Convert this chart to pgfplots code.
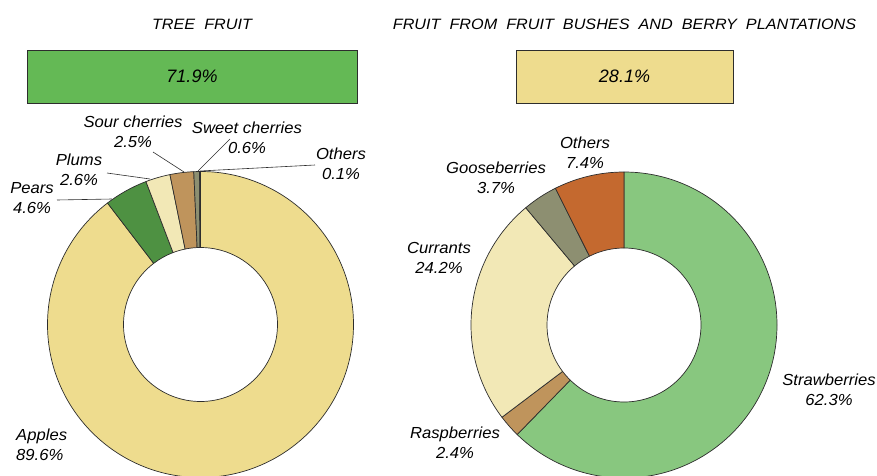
\documentclass[border=0pt]{standalone}
\usepackage{pgfplots}
\usepackage{pgfplotstable}
\pgfplotsset{compat=1.18}
\usepackage{fontspec}
\setmainfont{Liberation Sans}

\definecolor{cApple}{RGB}{238,220,142}
\definecolor{cPear}{RGB}{78,145,66}
\definecolor{cPlum}{RGB}{242,232,182}
\definecolor{cSour}{RGB}{191,148,92}
\definecolor{cSweet}{RGB}{141,143,113}
\definecolor{cOthL}{RGB}{90,90,80}
\definecolor{cStraw}{RGB}{136,199,127}
\definecolor{cRasp}{RGB}{191,148,92}
\definecolor{cCurr}{RGB}{242,232,182}
\definecolor{cGoose}{RGB}{141,143,113}
\definecolor{cOthR}{RGB}{196,105,47}
\definecolor{cBoxG}{RGB}{100,185,85}
\definecolor{cBoxY}{RGB}{238,220,142}
\definecolor{edge}{RGB}{45,45,45}
\definecolor{txt}{RGB}{40,40,40}

\pgfplotstableread{
pct col
89.6 cApple
4.6 cPear
2.6 cPlum
2.5 cSour
0.6 cSweet
0.1 cOthL
}\treetab

\pgfplotstableread{
pct col
62.3 cStraw
2.4 cRasp
24.2 cCurr
3.7 cGoose
7.4 cOthR
}\bushtab

\newcommand\donut[3]{%
  \pgfplotstablegetrowsof{#1}%
  \pgfmathtruncatemacro\nlast{\pgfplotsretval-1}%
  \def\cumval{0}%
  \pgfplotsforeachungrouped \i in {0,...,\nlast}{%
    \pgfplotstablegetelem{\i}{pct}\of{#1}\let\slicepct\pgfplotsretval
    \pgfplotstablegetelem{\i}{col}\of{#1}\let\slicecol\pgfplotsretval
    \pgfmathsetmacro\angs{90-3.6*\cumval}%
    \pgfmathsetmacro\ange{90-3.6*(\cumval+\slicepct)}%
    \pgfmathsetmacro\cumval{\cumval+\slicepct}%
    \edef\cmd{\noexpand\filldraw[fill=\slicecol, draw=edge, line width=0.7pt, line join=round]
      (axis cs:#2,#3) ++(\angs:153pt) arc[start angle=\angs, end angle=\ange, radius=153pt]
      -- ++(\ange:-76pt) arc[start angle=\ange, end angle=\angs, radius=77pt] -- cycle;}%
    \cmd
  }%
}

\begin{document}
\begin{tikzpicture}
\begin{axis}[
  x=1pt, y=1pt,
  xmin=0, xmax=877, ymin=0, ymax=475,
  hide axis,
  every node/.style={text=txt},
]
\path (axis cs:0,0) rectangle (axis cs:877,475);

% boxes
\filldraw[fill=cBoxG, draw=edge, line width=0.6pt] (axis cs:27,425) rectangle (axis cs:357,372);
\filldraw[fill=cBoxY, draw=edge, line width=0.6pt] (axis cs:516,425) rectangle (axis cs:733,372);
\node[font=\fontsize{18}{20}\selectfont\itshape, inner sep=0pt] at (axis cs:192,399) {71.9\%};
\node[font=\fontsize{18}{20}\selectfont\itshape, inner sep=0pt] at (axis cs:624.5,399) {28.1\%};

% titles
\node[font=\fontsize{15}{17}\selectfont\itshape, inner sep=0pt, xscale=1.08] at (axis cs:202,451) {TREE\ \ FRUIT};
\node[font=\fontsize{15}{17}\selectfont\itshape, inner sep=0pt, xscale=1.08] at (axis cs:624.5,451) {FRUIT\ \ FROM\ \ FRUIT\ \ BUSHES\ \ AND\ \ BERRY\ \ PLANTATIONS};

% donuts
\donut{\treetab}{200.5}{150.5}
\donut{\bushtab}{624}{150}

% leader lines
\addplot[edge, line width=0.6pt] coordinates {(153,323) (184,303)};
\addplot[edge, line width=0.6pt] coordinates {(230,336) (198,304)};
\addplot[edge, line width=0.6pt] coordinates {(315,310) (200,304)};
\addplot[edge, line width=0.6pt] coordinates {(107,302) (150,296)};
\addplot[edge, line width=0.6pt] coordinates {(57,275) (112,276)};

% labels
\tikzset{lab/.style={font=\fontsize{16}{20}\selectfont\itshape, align=center, inner sep=0pt, xscale=1.04}}
\node[lab] at (axis cs:133,343.5) {Sour cherries\\2.5\%};
\node[lab] at (axis cs:247,337) {Sweet cherries\\0.6\%};
\node[lab] at (axis cs:341,311.5) {Others\\0.1\%};
\node[lab] at (axis cs:79,305) {Plums\\2.6\%};
\node[lab] at (axis cs:32,277) {Pears\\4.6\%};
\node[lab, align=left, anchor=west] at (axis cs:16,30) {Apples\\89.6\%};
\node[lab] at (axis cs:585,322.5) {Others\\7.4\%};
\node[lab] at (axis cs:496,297.5) {Gooseberries\\3.7\%};
\node[lab] at (axis cs:439,217.5) {Currants\\24.2\%};
\node[lab] at (axis cs:829,85) {Strawberries\\62.3\%};
\node[lab] at (axis cs:455,32) {Raspberries\\2.4\%};
\end{axis}
\end{tikzpicture}
\end{document}
